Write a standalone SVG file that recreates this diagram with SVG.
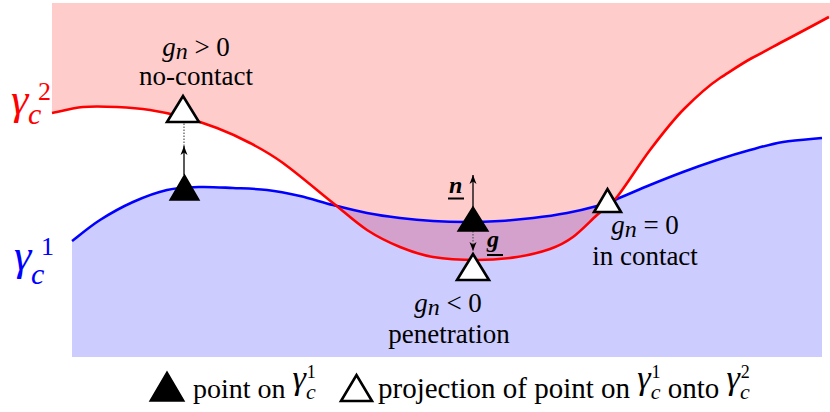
<svg xmlns="http://www.w3.org/2000/svg" width="830" height="412" viewBox="0 0 830 412">
<style>
.lbl{font-size:27px}
.curve{fill:none;stroke-width:2.6;stroke-linejoin:round}
.solid{stroke:#000;stroke-width:1.3;fill:none}
.dot{stroke:#555;stroke-width:1.2;stroke-dasharray:1.5 1.5;fill:none}
.tb{fill:#000;stroke:#000;stroke-width:1.5;stroke-linejoin:miter}
.tw{fill:#fff;stroke:#000;stroke-width:2.6;stroke-linejoin:miter}
</style>
<defs>
<marker id="ah" markerUnits="userSpaceOnUse" markerWidth="10" markerHeight="8" refX="9" refY="4" orient="auto">
<path d="M0,0.5 L9,4 L0,7.5 L2.5,4 Z" fill="#000"/>
</marker>
<path id="redP" d="M52,113 C57.2,112 72.2,108 83,107 C93.8,106 105.8,106.5 117,107 C128.2,107.5 139,108.3 150,110 C161,111.7 171.8,114 183,117 C194.2,120 205.8,123.7 217,128 C228.2,132.3 239,137.2 250,143 C261,148.8 269.2,153 283,163 C296.8,173 319,191.8 333,203 C347,214.2 355.8,222.7 367,230 C378.2,237.3 389,242.5 400,247 C411,251.5 420.2,254.8 433,257 C445.8,259.2 463,260 477,260 C491,260 504.8,258.8 517,257 C529.2,255.2 540.7,252.3 550,249 C559.3,245.7 565.2,242.7 573,237 C580.8,231.3 589.7,221.7 597,215 C604.3,208.3 608.2,207.8 617,197 C625.8,186.2 639,164.5 650,150 C661,135.5 672,121 684,109 C696,97 708,86 720,78 C731,71 741,64 752,58 C762,53 769,49 780,43 C793.2,36.2 820.8,21.3 829,17"/>
<path id="blueP" d="M72,241 C76.7,237.5 89.8,226.5 100,220 C110.2,213.5 121.8,207 133,202 C144.2,197 155.8,192.5 167,190 C178.2,187.5 189,187.3 200,187 C211,186.7 221.8,187.5 233,188 C244.2,188.5 255.8,188.7 267,190 C278.2,191.3 289,193.5 300,196 C311,198.5 321.8,202.2 333,205 C344.2,207.8 355.8,210.8 367,213 C378.2,215.2 389,216.7 400,218 C411,219.3 421.8,220.3 433,221 C444.2,221.7 455.8,222 467,222 C478.2,222 489,221.7 500,221 C511,220.3 521.8,219.3 533,218 C544.2,216.7 556.3,215 567,213 C577.7,211 588.7,208.3 597,206 C605.3,203.7 608.2,202.5 617,199 C625.8,195.5 639,189.5 650,185 C661,180.5 671.8,176.2 683,172 C694.2,167.8 705.8,163.7 717,160 C728.2,156.3 739,153 750,150 C761,147 771,144 783,142 C795,140 815.5,138.7 822,138"/>
<clipPath id="blueClip">
<path d="M72,241 C76.7,237.5 89.8,226.5 100,220 C110.2,213.5 121.8,207 133,202 C144.2,197 155.8,192.5 167,190 C178.2,187.5 189,187.3 200,187 C211,186.7 221.8,187.5 233,188 C244.2,188.5 255.8,188.7 267,190 C278.2,191.3 289,193.5 300,196 C311,198.5 321.8,202.2 333,205 C344.2,207.8 355.8,210.8 367,213 C378.2,215.2 389,216.7 400,218 C411,219.3 421.8,220.3 433,221 C444.2,221.7 455.8,222 467,222 C478.2,222 489,221.7 500,221 C511,220.3 521.8,219.3 533,218 C544.2,216.7 556.3,215 567,213 C577.7,211 588.7,208.3 597,206 C605.3,203.7 608.2,202.5 617,199 C625.8,195.5 639,189.5 650,185 C661,180.5 671.8,176.2 683,172 C694.2,167.8 705.8,163.7 717,160 C728.2,156.3 739,153 750,150 C761,147 771,144 783,142 C795,140 815.5,138.7 822,138 L822,357 L72,357 Z"/>
</clipPath>
</defs>

<g id="regions">
<path id="pink" fill="#ffcccc" d="M52,113 C57.2,112 72.2,108 83,107 C93.8,106 105.8,106.5 117,107 C128.2,107.5 139,108.3 150,110 C161,111.7 171.8,114 183,117 C194.2,120 205.8,123.7 217,128 C228.2,132.3 239,137.2 250,143 C261,148.8 269.2,153 283,163 C296.8,173 319,191.8 333,203 C347,214.2 355.8,222.7 367,230 C378.2,237.3 389,242.5 400,247 C411,251.5 420.2,254.8 433,257 C445.8,259.2 463,260 477,260 C491,260 504.8,258.8 517,257 C529.2,255.2 540.7,252.3 550,249 C559.3,245.7 565.2,242.7 573,237 C580.8,231.3 589.7,221.7 597,215 C604.3,208.3 608.2,207.8 617,197 C625.8,186.2 639,164.5 650,150 C661,135.5 672,121 684,109 C696,97 708,86 720,78 C731,71 741,64 752,58 C762,53 769,49 780,43 C793.2,36.2 820.8,21.3 829,17 L830,17 L830,3 L52,3 Z"/>
<path id="blue" fill="#ccccff" d="M72,241 C76.7,237.5 89.8,226.5 100,220 C110.2,213.5 121.8,207 133,202 C144.2,197 155.8,192.5 167,190 C178.2,187.5 189,187.3 200,187 C211,186.7 221.8,187.5 233,188 C244.2,188.5 255.8,188.7 267,190 C278.2,191.3 289,193.5 300,196 C311,198.5 321.8,202.2 333,205 C344.2,207.8 355.8,210.8 367,213 C378.2,215.2 389,216.7 400,218 C411,219.3 421.8,220.3 433,221 C444.2,221.7 455.8,222 467,222 C478.2,222 489,221.7 500,221 C511,220.3 521.8,219.3 533,218 C544.2,216.7 556.3,215 567,213 C577.7,211 588.7,208.3 597,206 C605.3,203.7 608.2,202.5 617,199 C625.8,195.5 639,189.5 650,185 C661,180.5 671.8,176.2 683,172 C694.2,167.8 705.8,163.7 717,160 C728.2,156.3 739,153 750,150 C761,147 771,144 783,142 C795,140 815.5,138.7 822,138 L822,357 L72,357 Z"/>
<path id="overlap" fill="#d4a0cc" clip-path="url(#blueClip)" d="M283,163 C296.8,173 319,191.8 333,203 C347,214.2 355.8,222.7 367,230 C378.2,237.3 389,242.5 400,247 C411,251.5 420.2,254.8 433,257 C445.8,259.2 463,260 477,260 C491,260 504.8,258.8 517,257 C529.2,255.2 540.7,252.3 550,249 C559.3,245.7 565.2,242.7 573,237 C580.8,231.3 589.7,221.7 597,215 C604.3,208.3 608.2,207.8 617,197 C625.8,186.2 639,164.5 650,150 L650,3 L283,3 Z"/>
</g>

<g id="boundaries">
<use href="#blueP" class="curve" stroke="#0000ff"/>
<use href="#redP" class="curve" stroke="#ff0000"/>
</g>

<g font-family="Liberation Serif">
<g id="gamma2-label" fill="#ff0000">
<text x="11" y="114" font-size="44" font-style="italic">γ</text>
<text x="28" y="124" font-size="30" font-style="italic">c</text>
<text x="38" y="100" font-size="26">2</text>
</g>
<g id="gamma1-label" fill="#0000ff">
<text x="14" y="270" font-size="44" font-style="italic">γ</text>
<text x="31" y="284" font-size="30" font-style="italic">c</text>
<text x="41" y="255" font-size="26">1</text>
</g>

<g id="connectors">
<line class="solid" x1="184" y1="175" x2="184" y2="146" marker-end="url(#ah)"/>
<line class="dot" x1="184" y1="146" x2="184" y2="123"/>
<line class="solid" x1="473" y1="207" x2="473" y2="175" marker-end="url(#ah)"/>
<line class="dot" x1="473" y1="231" x2="473" y2="251" marker-end="url(#ah)"/>
</g>

<g id="no-contact">
<polygon class="tb" points="170,200 199,200 184.5,175"/>
<polygon class="tw" points="167,122 199,122 183,96"/>
<text class="lbl" x="196" y="56" text-anchor="middle"><tspan font-style="italic">g</tspan><tspan font-style="italic" font-size="24" dy="3">n</tspan><tspan dy="-3"> &gt; 0</tspan></text>
<text class="lbl" x="196" y="85" text-anchor="middle">no-contact</text>
</g>

<g id="penetration">
<polygon class="tb" points="458,231 488,231 473,207"/>
<polygon class="tw" points="457,280 489,280 473,254"/>
<text x="449" y="193" font-size="24" font-weight="bold" font-style="italic">n</text>
<line x1="448" y1="198.5" x2="464" y2="198.5" stroke="#000" stroke-width="2"/>
<text x="487" y="247" font-size="24" font-weight="bold" font-style="italic">g</text>
<line x1="487" y1="255" x2="503" y2="255" stroke="#000" stroke-width="2"/>
<text class="lbl" x="448" y="312" text-anchor="middle"><tspan font-style="italic">g</tspan><tspan font-style="italic" font-size="24" dy="3">n</tspan><tspan dy="-3"> &lt; 0</tspan></text>
<text class="lbl" x="449" y="343" text-anchor="middle">penetration</text>
</g>

<g id="in-contact">
<polygon class="tw" points="594,212 621,212 607.5,189"/>
<text class="lbl" x="645" y="234" text-anchor="middle"><tspan font-style="italic">g</tspan><tspan font-style="italic" font-size="24" dy="3">n</tspan><tspan dy="-3"> = 0</tspan></text>
<text class="lbl" x="645" y="265" text-anchor="middle">in contact</text>
</g>

<g id="legend">
<polygon class="tb" points="150,401 184,401 167,372"/>
<text x="193" y="398" font-size="28">point on <tspan font-style="italic" font-size="34" dy="-9">γ</tspan><tspan font-style="italic" font-size="22" dy="10">c</tspan><tspan font-size="18" dx="-9" dy="-21">1</tspan></text>
<polygon class="tw" points="341,401 372,401 356.5,375"/>
<text x="378" y="398" font-size="29">projection of point on <tspan font-style="italic" font-size="34" dy="-9">γ</tspan><tspan font-style="italic" font-size="22" dy="10">c</tspan><tspan font-size="18" dx="-9" dy="-21">1</tspan><tspan dy="20"> onto </tspan><tspan font-style="italic" font-size="34" dy="-9">γ</tspan><tspan font-style="italic" font-size="22" dy="10">c</tspan><tspan font-size="18" dx="-9" dy="-21">2</tspan></text>
</g>
</g>
</svg>
